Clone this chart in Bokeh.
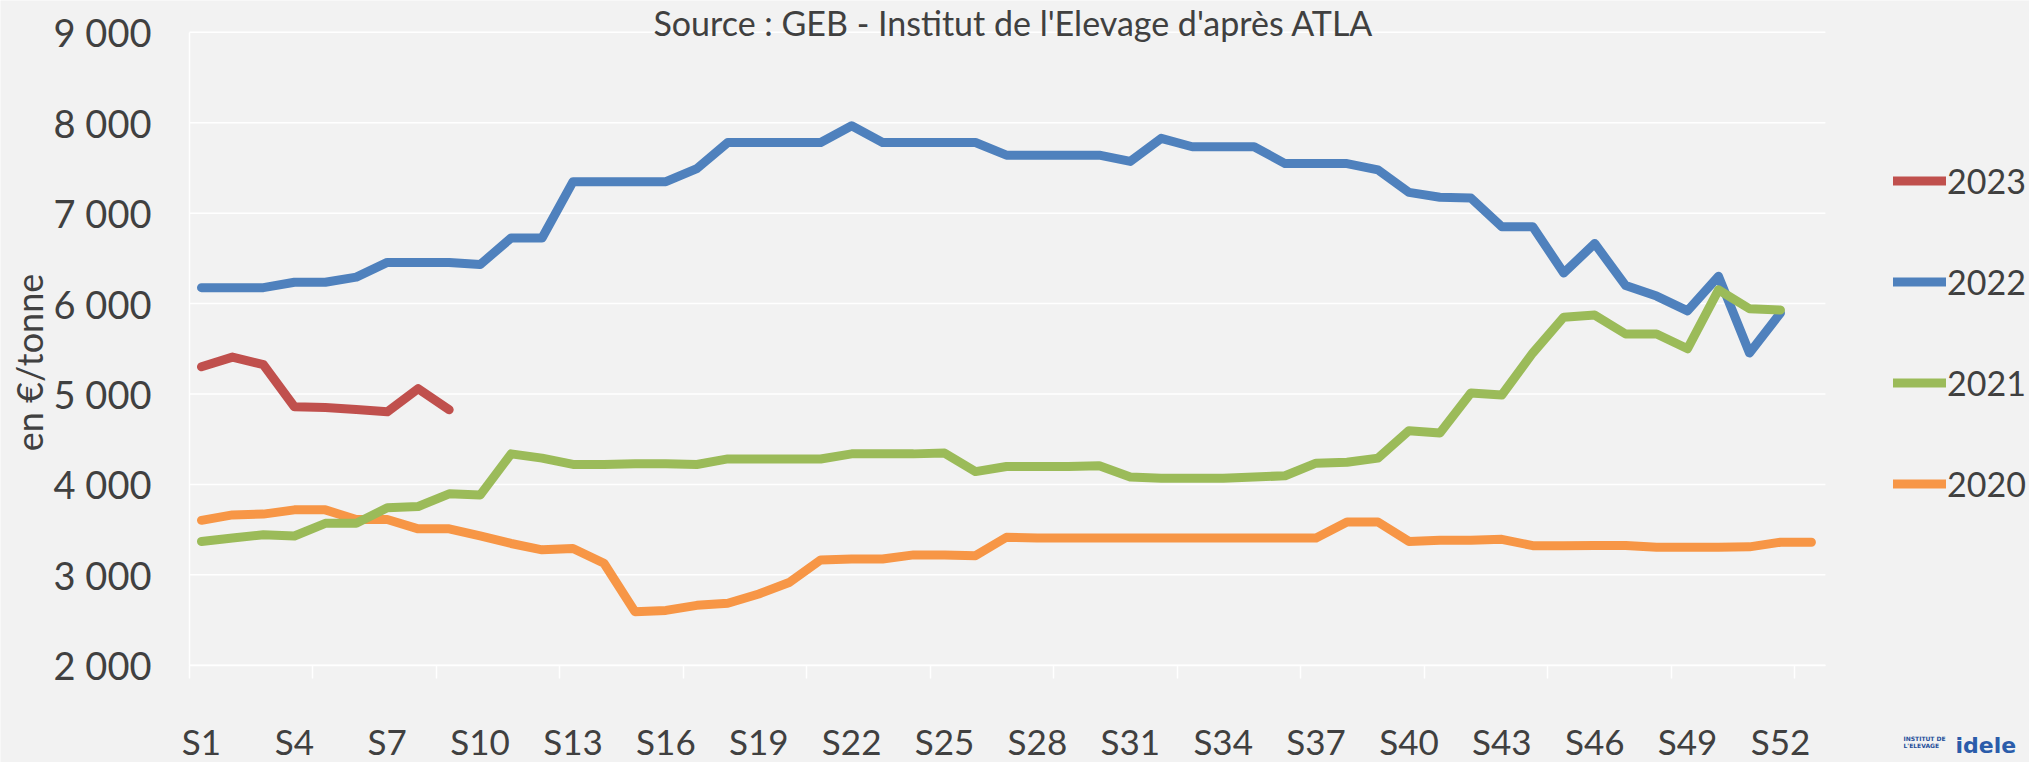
import math
from bokeh.plotting import figure
from bokeh.models import Legend, LegendItem, FixedTicker, Label, Range1d, ColumnDataSource
from bokeh.embed import file_html
from bokeh.resources import INLINE

# ---------------- data ----------------
years = ["2023", "2022", "2021", "2020"]

val_2023 = [5301, 5408, 5324, 4859, 4850, 4828, 4803, 5059, 4826]

val_2022 = [6176, 6176, 6176, 6236, 6236, 6292, 6455, 6455, 6455, 6431,
            6725, 6725, 7348, 7348, 7348, 7348, 7492, 7781, 7781, 7781,
            7781, 7967, 7781, 7781, 7781, 7781, 7641, 7641, 7641, 7641,
            7572, 7827, 7734, 7734, 7734, 7548, 7548, 7548, 7478, 7230,
            7176, 7167, 6850, 6850, 6338, 6664, 6199, 6083, 5920, 6301,
            5454, 5896]

val_2021 = [3370, 3407, 3444, 3430, 3570, 3570, 3742, 3756, 3896, 3882,
            4338, 4291, 4221, 4221, 4230, 4230, 4221, 4282, 4282, 4282,
            4282, 4338, 4338, 4338, 4347, 4142, 4198, 4198, 4198, 4207,
            4082, 4068, 4068, 4068, 4082, 4096, 4235, 4245, 4291, 4594,
            4570, 5012, 4989, 5454, 5850, 5873, 5664, 5664, 5501, 6152,
            5943, 5929]

val_2020 = [3603, 3663, 3672, 3719, 3719, 3612, 3612, 3509, 3509, 3430,
            3347, 3277, 3291, 3128, 2593, 2607, 2663, 2686, 2788, 2919,
            3165, 3175, 3175, 3221, 3221, 3212, 3416, 3407, 3407, 3407,
            3407, 3407, 3407, 3407, 3407, 3407, 3407, 3584, 3584, 3370,
            3384, 3384, 3393, 3323, 3323, 3325, 3325, 3305, 3305, 3305,
            3310, 3361, 3361]

tick_weeks = [1, 4, 7, 10, 13, 16, 19, 22, 25, 28, 31, 34, 37, 40, 43, 46, 49, 52]
tick_labels = ["S1", "S4", "S7", "S10", "S13", "S16", "S19", "S22", "S25",
               "S28", "S31", "S34", "S37", "S40", "S43", "S46", "S49", "S52"]
y_ticks = [2000, 3000, 4000, 5000, 6000, 7000, 8000, 9000]
y_tick_labels = ["2 000", "3 000", "4 000", "5 000", "6 000", "7 000", "8 000", "9 000"]

colors = {"2023": "#C0504D", "2022": "#4F81BD", "2021": "#9BBB59", "2020": "#F79646"}
series = {"2023": val_2023, "2022": val_2022, "2021": val_2021, "2020": val_2020}

# ---------------- layout constants ----------------
BG = "#F2F2F2"
TXT = "#404040"
FONT = "Lato"
W, H = 2029, 762

# plot area (in data units) and the full-canvas ranges around it
XA, XB = 0.6124, 53.452          # plot-area x extent (weeks)
YA, YB = 2000, 9000              # plot-area y extent
XR = (-5.492, 60.044)            # canvas-wide x range
YR = (925.1, 9351.6)             # canvas-wide y range

p = figure(width=W, height=H, output_backend="svg", toolbar_location=None,
           x_range=Range1d(*XR), y_range=Range1d(*YR),
           min_border=0, min_border_left=0, min_border_right=0,
           min_border_top=0, min_border_bottom=0)
p.background_fill_color = BG
p.border_fill_color = BG
p.outline_line_color = None
p.xgrid.grid_line_color = None
p.ygrid.grid_line_color = None

# horizontal gridlines limited to the plot area
p.segment(x0=[XA] * len(y_ticks), x1=[XB] * len(y_ticks), y0=y_ticks, y1=y_ticks,
          line_color="#FFFFFF", line_width=1.5)

# y axis (drawn at the plot-area left edge)
p.yaxis.fixed_location = XA
p.yaxis.bounds = (YA, YB)
p.yaxis.ticker = FixedTicker(ticks=y_ticks)
p.yaxis.major_label_overrides = {t: l for t, l in zip(y_ticks, y_tick_labels)}
p.yaxis.major_label_text_font = FONT
p.yaxis.major_label_text_font_size = "38px"
p.yaxis.major_label_text_color = TXT
p.yaxis.major_tick_line_color = None
p.yaxis.minor_tick_line_color = None
p.yaxis.major_tick_out = 0
p.yaxis.major_tick_in = 0
p.yaxis.major_label_standoff = 38
p.yaxis.axis_line_color = "#FFFFFF"
p.yaxis.axis_line_width = 1.5

# x axis (drawn at y = 2000)
minor = [XA + 3.989 * k for k in range(14)]
p.xaxis.fixed_location = YA
p.xaxis.bounds = (XA, XB)
p.xaxis.ticker = FixedTicker(ticks=tick_weeks, minor_ticks=minor)
p.xaxis.major_label_overrides = {t: l for t, l in zip(tick_weeks, tick_labels)}
p.xaxis.major_label_text_font = FONT
p.xaxis.major_label_text_font_size = "35px"
p.xaxis.major_label_text_color = TXT
p.xaxis.major_tick_line_color = None
p.xaxis.major_tick_out = 0
p.xaxis.major_tick_in = 0
p.xaxis.minor_tick_line_color = "#FFFFFF"
p.xaxis.minor_tick_line_width = 1.5
p.xaxis.minor_tick_out = 13
p.xaxis.minor_tick_in = 0
p.xaxis.axis_line_color = "#FFFFFF"
p.xaxis.axis_line_width = 1.5
p.xaxis.major_label_standoff = 42

# lines
renderers = {}
for yr in ["2022", "2020", "2021", "2023"]:
    vals = series[yr]
    src = ColumnDataSource(dict(x=list(range(1, len(vals) + 1)), y=vals))
    renderers[yr] = p.line("x", "y", source=src, line_color=colors[yr], line_width=9,
                           line_join="round", line_cap="round")

legend = Legend(items=[LegendItem(label=yr, renderers=[renderers[yr]]) for yr in years],
                location=(1893, 258), padding=0, margin=0, spacing=60,
                glyph_width=53, glyph_height=41, label_height=41, label_standoff=1,
                label_text_font=FONT, label_text_font_size="34px", label_text_color=TXT,
                background_fill_alpha=0, border_line_alpha=0)
p.add_layout(legend)

# y axis title
p.add_layout(Label(x=28, y=H - 362, x_units="screen", y_units="screen",
                   text="en €/tonne", angle=math.pi / 2,
                   text_font=FONT, text_font_size="36px", text_color=TXT,
                   text_align="center", text_baseline="middle"))

# source line (top)
p.add_layout(Label(x=1013, y=H - 22, x_units="screen", y_units="screen",
                   text="Source : GEB - Institut de l'Elevage d'après ATLA",
                   text_font=FONT, text_font_size="34px", text_color=TXT,
                   text_align="center", text_baseline="alphabetic"))

# logo text (bottom right)
p.add_layout(Label(x=1903, y=H - 738, x_units="screen", y_units="screen",
                   text="INSTITUT DE", text_font="DejaVu Sans", text_font_size="6px",
                   text_font_style="bold", text_color="#1F4E9A",
                   text_align="left", text_baseline="alphabetic"))
p.add_layout(Label(x=1903, y=H - 745, x_units="screen", y_units="screen",
                   text="L'ELEVAGE", text_font="DejaVu Sans", text_font_size="6px",
                   text_font_style="bold", text_color="#1F4E9A",
                   text_align="left", text_baseline="alphabetic"))
p.add_layout(Label(x=1955, y=H - 745, x_units="screen", y_units="screen",
                   text="idele", text_font="DejaVu Sans", text_font_size="22px",
                   text_font_style="bold", text_color="#2A5CAA",
                   text_align="left", text_baseline="alphabetic"))

open("out.html", "w").write(file_html(p, INLINE))
